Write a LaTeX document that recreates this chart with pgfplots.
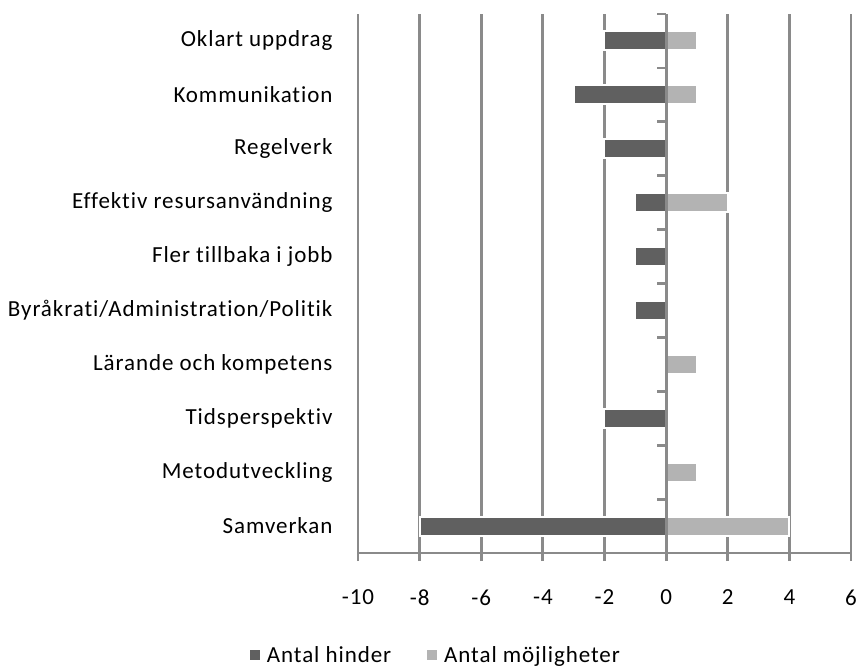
\documentclass[border=0pt]{standalone}
\usepackage{fontspec}
\setmainfont{Carlito}[Ligatures={NoCommon}, LetterSpace=4]
\usepackage{pgfplots}
\pgfplotsset{compat=1.18}
\definecolor{dark}{HTML}{606060}
\definecolor{light}{HTML}{B3B3B3}
\definecolor{gridc}{HTML}{8A8A8A}
\begin{document}
\begin{tikzpicture}
\begin{axis}[
 name=main,
 scale only axis, width=493pt, height=539pt,
 xmin=-10, xmax=6, ymin=0.5, ymax=10.5, y dir=reverse,
 xtick={-10,-8,...,6}, xticklabels={-10,-8,-6,-4,-2,0,2,4,6},
 ytick={1,...,10},
 yticklabels={Oklart uppdrag,Kommunikation,Regelverk,Effektiv resursanvändning,Fler tillbaka i jobb,Byråkrati/Administration/Politik,Lärande och kompetens,Tidsperspektiv,Metodutveckling,Samverkan},
 xmajorgrids, grid style={gridc, line width=2.8pt},
 axis x line*=bottom, axis y line*=left,
 y axis line style={draw=none},
 x axis line style={gridc, line width=2.8pt, -},
 xtick style={gridc, line width=2.8pt}, tick align=outside, major tick length=8pt,
 ytick style={draw=none},
 ticklabel style={font=\fontsize{23}{27}\selectfont},
 yticklabel style={xshift=-14pt},
 xticklabel style={yshift=-25pt},
 xbar, bar width=19pt, bar shift=0pt,
 legend style={at={(axis description cs:0.158,-0.19)}, anchor=center, draw=none, legend columns=2, font=\fontsize{23}{27}\selectfont,
   /tikz/every even column/.append style={column sep=34pt},
   /tikz/every odd column/.append style={column sep=5pt}},
 legend image code/.code={\fill[#1,draw=none] (0pt,-5pt) rectangle (10pt,5pt);},
]
\addplot[fill=dark, draw=white, line width=2pt] coordinates {(-2,1) (-3,2) (-2,3) (-1,4) (-1,5) (-1,6) (-2,8) (-8,10)};
\addlegendentry{Antal hinder}
\addplot[fill=light, draw=white, line width=2pt] coordinates {(1,1) (1,2) (2,4) (1,7) (1,9) (4,10)};
\addlegendentry{Antal möjligheter}
\end{axis}
\begin{axis}[
 scale only axis, width=493pt, height=539pt,
 xmin=-10, xmax=6, ymin=0.5, ymax=10.5, y dir=reverse,
 axis x line=none, axis y line=middle,
 y axis line style={gridc, line width=2.8pt, -},
 ytick={0.5,1.5,...,10.5}, yticklabels={},
 ytick style={gridc, line width=2.8pt}, tick align=outside, major tick length=9pt,
 xtick=\empty,
]
\addplot[draw=none] coordinates {(0,1)};
\end{axis}
\pgfresetboundingbox
\path (main.south west) ++(-358pt,-117pt) rectangle ++(859pt,670pt);
\end{tikzpicture}
\end{document}
